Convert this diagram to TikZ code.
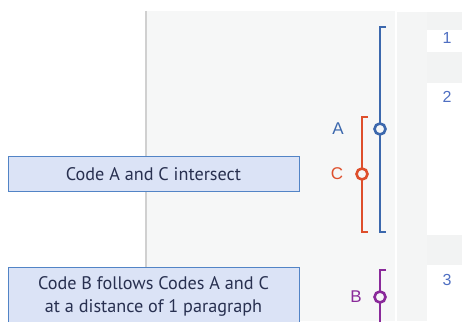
\documentclass[tikz,border=0pt]{standalone}
\usepackage{fontspec}
\setmainfont{PT Sans}
\newfontfamily\helv{Liberation Sans}
\definecolor{cA}{HTML}{3C68AD}
\definecolor{cC}{HTML}{DE4F2C}
\definecolor{cB}{HTML}{8A2A9A}
\definecolor{numc}{HTML}{4F6FC2}
\definecolor{boxfill}{HTML}{DBE3F6}
\definecolor{boxline}{HTML}{5284C6}
\definecolor{boxtext}{HTML}{283050}
\definecolor{rule}{HTML}{D0D0D0}
\definecolor{panel}{HTML}{F6F7F7}
\definecolor{panel2}{HTML}{F4F5F5}
\definecolor{rowgray}{HTML}{F2F3F3}
\tikzset{
  bracketline/.style={line width=2.8pt, line join=miter, line cap=butt},
  knob/.style={circle, draw, fill=panel, line width=2.6pt, inner sep=0pt, minimum size=11pt},
  codelbl/.style={font=\helv\fontsize{17}{17}\selectfont, inner sep=0pt},
  numlbl/.style={font=\helv\fontsize{16}{16}\selectfont, text=numc, inner sep=0pt},
  notebox/.style={draw=boxline, fill=boxfill, line width=1pt, text=boxtext,
     minimum width=291pt, inner sep=0pt, align=center,
     font=\fontsize{18.2}{23}\selectfont}
}
\begin{document}
\begin{tikzpicture}[x=1pt,y=-1pt]
\useasboundingbox (0,0) rectangle (462,321);
\clip (0,0) rectangle (462,321);
% backgrounds
\fill[white] (0,0) rectangle (462,321);
\fill[panel] (147,11) rectangle (395,321);
\fill[panel2] (397,12) rectangle (427,321);
\fill[rowgray] (427,12) rectangle (462,30);
\fill[rowgray] (427,52) rectangle (462,83);
\fill[rowgray] (427,235) rectangle (462,265);
\draw[rule, line width=2pt] (146,11) -- (146,321);
% row numbers
\node[numlbl] (n1) at (447,38) {1};
\node[numlbl] (n2) at (447,97) {2};
\node[numlbl] (n3) at (447,280) {3};
% code A (blue)
\coordinate (At) at (380,27);
\coordinate (Ab) at (380,232);
\draw[bracketline, cA] ([xshift=6pt]At) -- (At) -- (Ab) -- ([xshift=6pt]Ab);
\node[knob, draw=cA] (Ak) at (380,129) {};
\node[codelbl, text=cA] (Al) at (338,129) {A};
% code C (red)
\coordinate (Ct) at (362,117);
\coordinate (Cb) at (362,232);
\draw[bracketline, cC] ([xshift=6pt]Ct) -- (Ct) -- (Cb) -- ([xshift=6pt]Cb);
\node[knob, draw=cC] (Ck) at (362,174) {};
\node[codelbl, text=cC] (Cl) at (337,174) {C};
% code B (purple)
\coordinate (Bt) at (380,270);
\coordinate (Bb) at (380,330);
\draw[bracketline, cB] ([xshift=6pt]Bt) -- (Bt) -- (Bb);
\node[knob, draw=cB] (Bk) at (380,297) {};
\node[codelbl, text=cB] (Bl) at (356,297) {B};
% note boxes
\node[notebox, minimum height=35pt, anchor=north] (box1) at (153.5,156) {Code A and C intersect};
\node[notebox, minimum height=58pt, anchor=north] (box2) at (153.5,267) {Code B follows Codes A and C\\at a distance of 1 paragraph};
\end{tikzpicture}
\end{document}
